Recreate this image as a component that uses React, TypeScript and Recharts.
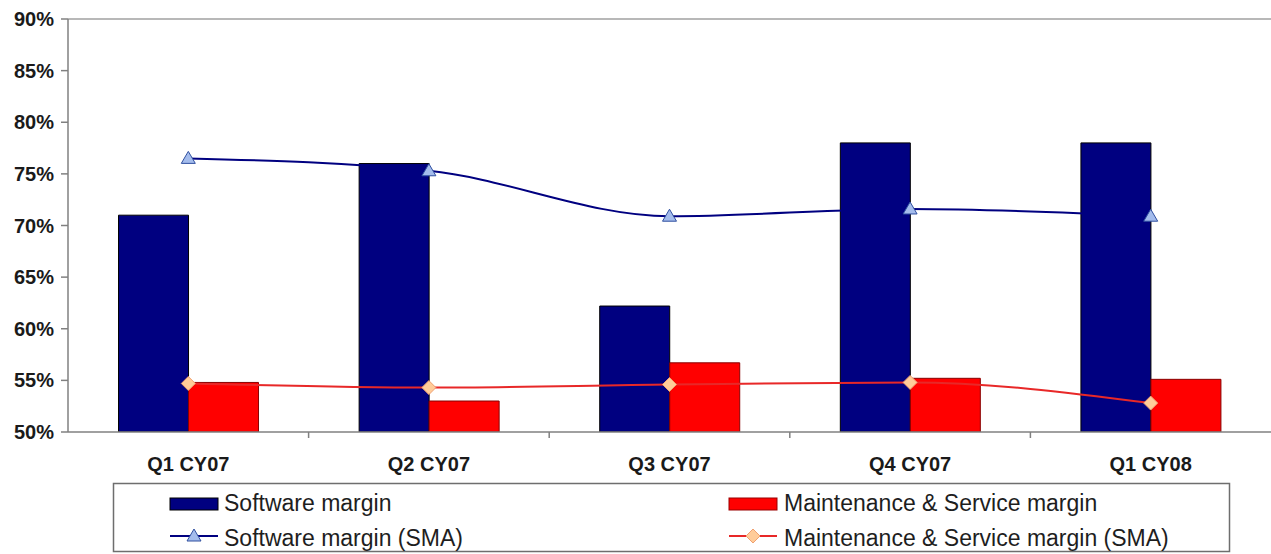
import {
  ComposedChart,
  Bar,
  Line,
  XAxis,
  YAxis,
  ReferenceLine,
} from "recharts";

const quarters = ["Q1 CY07", "Q2 CY07", "Q3 CY07", "Q4 CY07", "Q1 CY08"];
const softwareMargin = [71.0, 76.0, 62.2, 78.0, 78.0];
const maintenanceMargin = [54.8, 53.0, 56.7, 55.2, 55.1];
const softwareSma = [76.5, 75.3, 70.9, 71.6, 70.9];
const maintenanceSma = [54.7, 54.3, 54.6, 54.8, 52.8];
const yTicks = [50, 55, 60, 65, 70, 75, 80, 85, 90];

const data = quarters.map((quarter, i) => ({
  quarter,
  software: softwareMargin[i],
  maintenance: maintenanceMargin[i],
  softwareSma: softwareSma[i],
  maintenanceSma: maintenanceSma[i],
}));

const FONT = "'Liberation Sans', Arial, sans-serif";
const NAVY = "#000080";
const RED = "#ff0000";
const RED_LINE = "#e82828";
const TRI_FILL = "#a4bcec";
const DIA_FILL = "#ffcc99";
const DIA_STROKE = "#f0a070";
const AXIS_GREY = "#808080";
const LABEL_GAP = 25;

function triangle(cx: number, cy: number) {
  return `M${cx},${cy - 7} L${cx + 7},${cy + 5} L${cx - 7},${cy + 5} Z`;
}

function diamond(cx: number, cy: number) {
  return `M${cx},${cy - 7} L${cx + 7},${cy} L${cx},${cy + 7} L${cx - 7},${cy} Z`;
}

function TriangleDot(props: any) {
  const { cx, cy, index } = props;
  if (cx == null || cy == null) return null;
  return (
    <path
      key={`tri-${index}`}
      d={triangle(cx, cy)}
      fill={TRI_FILL}
      stroke="#3050a0"
      strokeWidth={1}
    />
  );
}

function DiamondDot(props: any) {
  const { cx, cy, index } = props;
  if (cx == null || cy == null) return null;
  return (
    <path
      key={`dia-${index}`}
      d={diamond(cx, cy)}
      fill={DIA_FILL}
      stroke={DIA_STROKE}
      strokeWidth={1}
    />
  );
}

// quarter label, plus a short tick mark on the band's left edge
function QuarterTick(props: any) {
  const { x, y, payload, index } = props;
  const axisY = y - LABEL_GAP;
  const edge = x - (payload?.offset ?? 0);
  return (
    <g>
      {index > 0 && (
        <line x1={edge} x2={edge} y1={axisY} y2={axisY + 6} stroke={AXIS_GREY} strokeWidth={1.5} />
      )}
      <text
        x={x}
        y={y}
        dy="0.71em"
        textAnchor="middle"
        fontFamily={FONT}
        fontSize={20}
        fontWeight={700}
        fill="#1a1a1a"
      >
        {payload.value}
      </text>
    </g>
  );
}

function LegendBox() {
  const textStyle = { fontFamily: FONT, fontSize: 23, fill: "#1e1e1e" };
  return (
    <svg
      width={1271}
      height={554}
      style={{ position: "absolute", left: 0, top: 0, pointerEvents: "none" }}
    >
      <rect x={113.5} y={483.5} width={1116} height={68} fill="#fff" stroke="#6e6e6e" strokeWidth={1.5} />
      <rect x={170} y={498} width={48} height={12} fill={NAVY} stroke="#000" strokeWidth={1} />
      <text x={224} y={511} {...textStyle}>Software margin</text>
      <rect x={729} y={498} width={48} height={12} fill={RED} stroke="#900" strokeWidth={1} />
      <text x={784} y={511} {...textStyle}>Maintenance &amp; Service margin</text>
      <line x1={170} x2={218} y1={536} y2={536} stroke={NAVY} strokeWidth={2} />
      <path d={triangle(194, 536)} fill={TRI_FILL} stroke="#3050a0" strokeWidth={1} />
      <text x={224} y={546} {...textStyle}>Software margin (SMA)</text>
      <line x1={729} x2={777} y1={536} y2={536} stroke={RED_LINE} strokeWidth={2} />
      <path d={diamond(753, 536)} fill={DIA_FILL} stroke={DIA_STROKE} strokeWidth={1} />
      <text x={784} y={546} {...textStyle}>Maintenance &amp; Service margin (SMA)</text>
    </svg>
  );
}

export default function App() {
  return (
    <div
      style={{
        position: "absolute",
        left: 0,
        top: 0,
        width: 1271,
        height: 554,
        background: "#fff",
      }}
    >
      <ComposedChart
        width={1271}
        height={554}
        data={data}
        margin={{ top: 19, right: 0, bottom: 0, left: 0 }}
        barCategoryGap="21%"
        barGap={0}
      >
        <XAxis
          dataKey="quarter"
          height={122}
          tickLine={false}
          tickSize={0}
          tickMargin={LABEL_GAP}
          axisLine={{ stroke: AXIS_GREY, strokeWidth: 1.5 }}
          tick={QuarterTick}
        />
        <YAxis
          width={68}
          domain={[50, 90]}
          ticks={yTicks}
          allowDataOverflow
          tickFormatter={(v: number) => `${v}%`}
          tickSize={7}
          tickMargin={7}
          axisLine={{ stroke: AXIS_GREY, strokeWidth: 1.5 }}
          tickLine={{ stroke: AXIS_GREY, strokeWidth: 1.5 }}
          tick={{ fontFamily: FONT, fontSize: 20, fontWeight: 700, fill: "#1a1a1a" }}
        />
        <ReferenceLine y={90} stroke="#a0a0a0" strokeWidth={1.5} />
        <Bar dataKey="software" fill={NAVY} stroke="#000" strokeWidth={1} isAnimationActive={false} />
        <Bar dataKey="maintenance" fill={RED} stroke="#800" strokeWidth={1} isAnimationActive={false} />
        <Line
          type="monotone"
          dataKey="softwareSma"
          stroke={NAVY}
          strokeWidth={2}
          dot={TriangleDot}
          activeDot={false}
          isAnimationActive={false}
        />
        <Line
          type="monotone"
          dataKey="maintenanceSma"
          stroke={RED_LINE}
          strokeWidth={2}
          dot={DiamondDot}
          activeDot={false}
          isAnimationActive={false}
        />
      </ComposedChart>
      <LegendBox />
    </div>
  );
}
